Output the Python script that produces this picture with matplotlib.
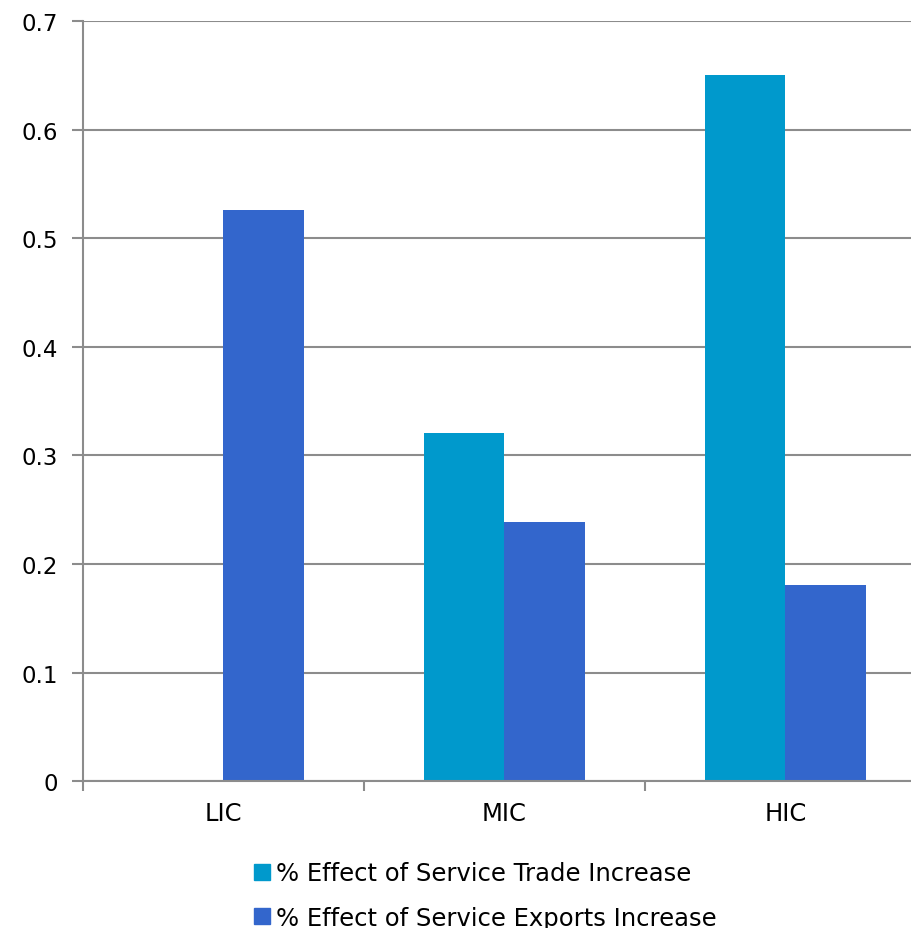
import numpy as np
import matplotlib.pyplot as plt
from matplotlib.patches import Patch

plt.rcParams['font.family'] = ['DejaVu Sans']

groups = ["LIC", "MIC", "HIC"]
trade = [0.0, 0.321, 0.650]
exports = [0.526, 0.239, 0.181]
series_names = ["% Effect of Service Trade Increase",
                "% Effect of Service Exports Increase"]
ytick_vals = [0, 0.1, 0.2, 0.3, 0.4, 0.5, 0.6, 0.7]
ytick_labels = ["0", "0.1", "0.2", "0.3", "0.4", "0.5", "0.6", "0.7"]

c_trade = '#0099CC'
c_exp = '#3366CC'
grid_c = '#8C8C8C'
fs = 16.5

fig = plt.figure(figsize=(9.12, 9.29), dpi=100)
ax = fig.add_axes([0.091, 0.158, 0.9243, 0.8181])

x = np.arange(len(groups)) + 0.5
w = 0.285
ax.bar(x - w / 2, trade, w, color=c_trade, zorder=2)
ax.bar(x + w / 2, exports, w, color=c_exp, zorder=2)

ax.set_xlim(0, 3)
ax.set_ylim(0, 0.7)
ax.set_yticks(ytick_vals)
ax.set_yticklabels(ytick_labels, fontsize=fs)
ax.yaxis.grid(True, color=grid_c, linewidth=1.5, zorder=0)
ax.set_axisbelow(True)

# group boundaries carry the tick marks, names sit at the centres
ax.set_xticks([0, 1, 2, 3])
ax.set_xticklabels([])
ax.set_xticks(x, minor=True)
ax.set_xticklabels(groups, minor=True, fontsize=17.5)
ax.tick_params(axis='x', which='minor', length=0, pad=14)
ax.tick_params(axis='x', which='major', length=7, width=1.5, color=grid_c)
ax.tick_params(axis='y', length=8, width=1.5, color=grid_c, pad=10)

for s in ['top', 'right']:
    ax.spines[s].set_visible(False)
for s in ['left', 'bottom']:
    ax.spines[s].set_color(grid_c)
    ax.spines[s].set_linewidth(1.5)

handles = [Patch(color=c_trade), Patch(color=c_exp)]
fig.legend(handles, series_names, loc='upper left',
           bbox_to_anchor=(0.265, 0.085), frameon=False,
           fontsize=17.5, handlelength=0.65, handleheight=0.65,
           handletextpad=0.25, labelspacing=0.85, borderpad=0)

fig.savefig('out.png', dpi=100)
